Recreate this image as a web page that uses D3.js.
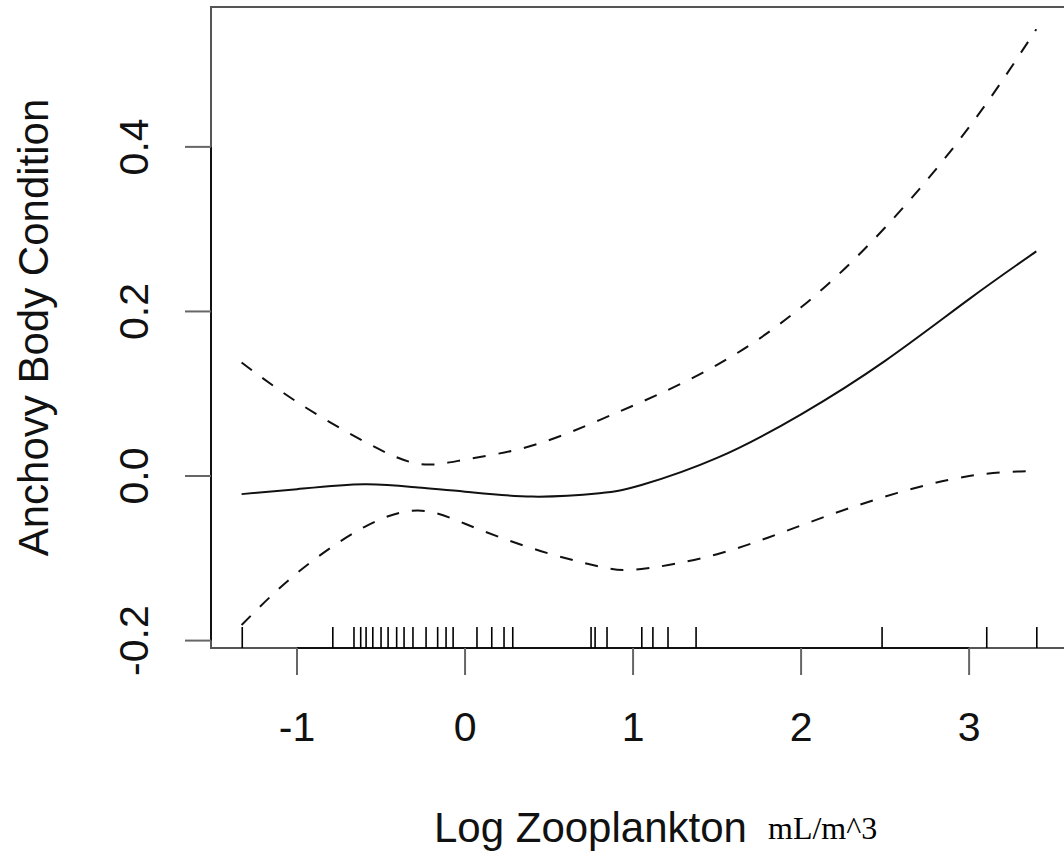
<!doctype html>
<html lang="en">
<head>
<meta charset="UTF-8">
<title>Anchovy Body Condition</title>
<script src="https://d3js.org/d3.v7.min.js"></script>
<style>
  body { margin: 0; background: #fff; }
  svg { display: block; }
</style>
</head>
<body>
<div id="chart-area"></div>

<script>

// smooth term and its confidence band
const xs    = [-1.33, -1.0, -0.6, -0.28, 0, 0.4, 0.8, 1.05, 1.5, 2.0, 2.5, 3.0, 3.4];
const fit   = [-0.022, -0.016, -0.010, -0.014, -0.019, -0.025, -0.021, -0.011, 0.022, 0.075, 0.140, 0.215, 0.273];
const upper = [0.138, 0.090, 0.042, 0.015, 0.020, 0.037, 0.068, 0.090, 0.135, 0.205, 0.302, 0.424, 0.543];
const lower = [-0.181, -0.118, -0.062, -0.042, -0.058, -0.088, -0.110, -0.113, -0.095, -0.060, -0.025, 0.000, 0.006];

// rug of observed log zooplankton values
const rug = [-1.326, -0.787, -0.661, -0.621, -0.589, -0.549, -0.500, -0.458, -0.407, -0.363,
             -0.310, -0.232, -0.163, -0.113, -0.071, 0.071, 0.159, 0.232, 0.284,
             0.750, 0.774, 0.845, 1.052, 1.118, 1.208, 1.375, 2.482, 3.105, 3.403];

const xTicks = [-1, 0, 1, 2, 3];
const yTicks = [-0.2, 0.0, 0.2, 0.4];

const W = 1064, H = 857;
const fontSans = 'Liberation Sans, Arial, Helvetica, sans-serif';

// R prints a plain hyphen, not the unicode minus
const fmtY = d => d3.format('.1f')(d).replace('\u2212', '-');

const svg = d3.select('#chart-area')
    .append('svg')
    .attr('width', W)
    .attr('height', H);

const x = d3.scaleLinear().domain([-1.512, 3.66]).range([211, 1080]);
const y = d3.scaleLinear().domain([-0.209, 0.570]).range([648, 7]);

// plot box
svg.append('rect')
    .attr('x', x.range()[0])
    .attr('y', y.range()[1])
    .attr('width', x.range()[1] - x.range()[0])
    .attr('height', y.range()[0] - y.range()[1])
    .attr('fill', 'none')
    .attr('stroke', '#555')
    .attr('stroke-width', 2);

// x axis (R style: line only between first and last tick)
svg.append('line')
    .attr('x1', x(xTicks[0])).attr('x2', x(xTicks[xTicks.length - 1]))
    .attr('y1', 648).attr('y2', 648)
    .attr('stroke', '#111').attr('stroke-width', 2);

svg.selectAll('.xtick')
    .data(xTicks)
    .enter().append('line')
        .attr('x1', d => x(d)).attr('x2', d => x(d))
        .attr('y1', 648).attr('y2', 675)
        .attr('stroke', '#666').attr('stroke-width', 2);

svg.selectAll('.xlab')
    .data(xTicks)
    .enter().append('text')
        .attr('x', d => x(d))
        .attr('y', 741)
        .attr('text-anchor', 'middle')
        .style('font-family', fontSans)
        .style('font-size', '41px')
        .attr('fill', '#111')
        .text(d => String(d));

// y axis
svg.append('line')
    .attr('x1', 211).attr('x2', 211)
    .attr('y1', y(yTicks[0])).attr('y2', y(yTicks[yTicks.length - 1]))
    .attr('stroke', '#111').attr('stroke-width', 2);

svg.selectAll('.ytick')
    .data(yTicks)
    .enter().append('line')
        .attr('x1', 185).attr('x2', 211)
        .attr('y1', d => y(d)).attr('y2', d => y(d))
        .attr('stroke', '#666').attr('stroke-width', 2);

svg.selectAll('.ylab')
    .data(yTicks)
    .enter().append('text')
        .attr('transform', d => `translate(148,${y(d)}) rotate(-90)`)
        .attr('text-anchor', 'middle')
        .style('font-family', fontSans)
        .style('font-size', '41px')
        .attr('fill', '#111')
        .text(fmtY);

// rug
svg.selectAll('.rug')
    .data(rug)
    .enter().append('line')
        .attr('x1', d => x(d)).attr('x2', d => x(d))
        .attr('y1', 648).attr('y2', 627)
        .attr('stroke', '#000').attr('stroke-width', 1.6);

// curves
const line = vals => d3.line()
    .x((d, i) => x(xs[i]))
    .y(d => y(d))
    .curve(d3.curveNatural)(vals);

svg.append('path')
    .attr('d', line(fit))
    .attr('fill', 'none')
    .attr('stroke', '#111')
    .attr('stroke-width', 2);

[upper, lower].forEach(band => {
    svg.append('path')
        .attr('d', line(band))
        .attr('fill', 'none')
        .attr('stroke', '#111')
        .attr('stroke-width', 2)
        .attr('stroke-dasharray', '13,13');
});

// axis titles
svg.append('text')
    .attr('transform', `translate(48,${(y.range()[0] + y.range()[1]) / 2}) rotate(-90)`)
    .attr('text-anchor', 'middle')
    .style('font-family', fontSans)
    .style('font-size', '42px')
    .attr('fill', '#111')
    .text('Anchovy Body Condition');

svg.append('text')
    .attr('x', 434)
    .attr('y', 842)
    .style('font-family', fontSans)
    .style('font-size', '42px')
    .attr('fill', '#111')
    .text('Log Zooplankton');

svg.append('text')
    .attr('x', 768)
    .attr('y', 839)
    .style('font-family', 'Liberation Serif, Times New Roman, serif')
    .style('font-size', '32px')
    .attr('fill', '#000')
    .text('mL/m^3');

</script>
</body>
</html>
